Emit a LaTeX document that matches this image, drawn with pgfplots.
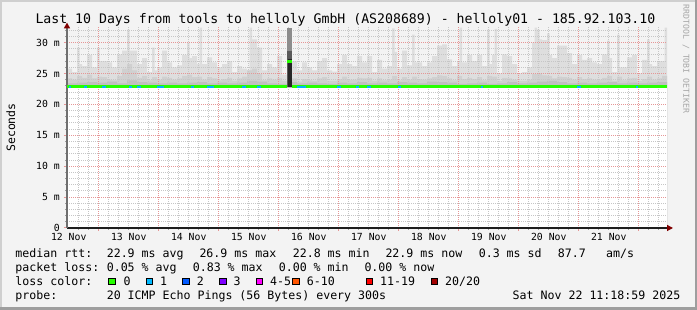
\documentclass[border=0pt]{standalone}
\usepackage{pgfplots}
\pgfplotsset{compat=1.18}
\usepackage{pgfplotstable}
\usepackage{fontspec}
\setmainfont{DejaVu Sans Mono}
\usetikzlibrary{arrows.meta}
\definecolor{bgc}{RGB}{243,243,243}
\definecolor{shadeA}{RGB}{207,207,207}
\definecolor{shadeB}{RGB}{158,158,158}
\definecolor{smokeA}{RGB}{222,222,222}
\definecolor{smokeB}{RGB}{208,208,208}
\definecolor{smokeC}{RGB}{192,192,192}
\definecolor{colA}{RGB}{140,140,140}
\definecolor{colB}{RGB}{90,90,90}
\definecolor{colC}{RGB}{38,38,38}
\definecolor{majgrid}{RGB}{230,150,150}
\definecolor{mingrid}{RGB}{198,198,198}
\definecolor{yaxiscol}{RGB}{110,110,110}
\definecolor{xaxiscol}{RGB}{30,30,30}
\definecolor{arrowred}{RGB}{128,0,0}
\definecolor{loss0}{HTML}{26FF00}
\definecolor{loss1}{HTML}{00B8FF}
\definecolor{loss2}{HTML}{0059FF}
\definecolor{loss3}{HTML}{7E00FF}
\definecolor{loss45}{HTML}{FF00FF}
\definecolor{loss610}{HTML}{FF5500}
\definecolor{loss1119}{HTML}{FF0000}
\definecolor{loss20}{HTML}{A10000}

% hours since 12 Nov 00:00
\pgfplotstableread{
h v
11.3 25.8
13.3 25.2
15.3 29.2
16.3 26.5
17.3 26.2
19.3 28.0
21.3 26.0
23.3 29.2
24.3 27.0
25.3 27.0
27.3 26.8
29.3 26.0
31.3 28.1
33.3 28.7
35.3 32.1
36.3 28.7
37.3 28.7
39.3 26.5
41.3 27.5
43.3 25.2
45.3 29.2
46.3 25.5
47.3 26.0
49.3 28.7
51.3 26.8
53.3 26.0
55.3 26.3
57.3 28.0
59.3 30.0
60.3 27.5
61.3 27.8
63.3 26.5
64.3 32.4
65.3 26.5
67.3 27.6
69.3 26.8
71.3 26.0
73.3 26.5
75.3 27.0
77.3 25.2
79.3 26.2
81.3 25.8
83.3 25.5
84.3 32.4
85.3 30.5
87.3 29.2
89.3 25.5
91.3 26.5
93.3 26.0
95.3 27.8
97.3 24.8
99.3 24.8
101.3 27.0
103.3 25.5
105.3 26.8
107.3 26.0
109.3 25.5
111.3 27.0
113.3 27.5
115.3 25.5
117.3 25.3
119.3 26.5
121.3 28.0
123.3 26.5
125.3 26.2
127.3 27.8
129.3 26.8
131.3 27.8
133.3 25.2
135.3 27.2
137.3 25.8
139.3 26.2
141.3 32.3
142.3 28.5
143.3 25.8
145.3 28.7
147.3 26.3
149.3 31.3
150.3 26.8
151.3 26.8
153.3 26.2
155.3 26.8
157.3 27.8
159.3 29.5
161.3 29.7
163.3 27.3
165.3 26.2
167.3 27.0
168.3 32.4
169.3 26.8
171.3 28.0
173.3 27.0
175.3 28.0
177.3 26.2
179.3 32.1
180.3 26.5
181.3 28.0
182.3 32.2
183.3 25.0
185.3 28.1
187.3 27.8
189.3 26.5
191.3 25.0
193.3 25.2
195.3 26.0
197.3 30.0
198.3 32.4
199.3 32.1
200.3 30.5
201.3 30.4
203.3 31.5
204.3 28.0
205.3 27.5
207.3 29.5
209.3 29.5
211.3 28.3
213.3 26.5
215.3 28.0
217.3 27.2
219.3 27.5
221.3 26.8
223.3 26.5
225.3 28.1
227.3 30.3
228.3 27.5
229.3 25.2
231.3 31.3
232.3 26.0
233.3 26.0
235.3 27.6
237.3 28.0
239.3 25.0
241.3 27.2
243.3 30.5
244.3 26.5
245.3 26.2
247.3 27.0
249.3 27.0
250.3 32.4
251.3 32.4
}\smokemax

\pgfplotstableread{
h v
11.3 24.2
13.3 24.0
15.3 24.6
17.3 24.3
19.3 24.8
21.3 24.2
23.3 24.5
25.3 24.4
27.3 24.0
29.3 23.9
31.3 24.6
33.3 25.8
35.3 26.5
37.3 25.5
39.3 24.3
41.3 24.6
43.3 23.9
45.3 24.4
47.3 24.0
49.3 24.5
51.3 24.3
53.3 24.0
55.3 24.2
57.3 24.6
59.3 24.8
61.3 24.4
63.3 24.5
65.3 24.0
67.3 24.4
69.3 24.2
71.3 23.9
73.3 24.1
75.3 24.3
77.3 23.8
79.3 24.2
81.3 24.5
83.3 25.5
85.3 25.8
87.3 24.9
89.3 23.9
91.3 24.2
93.3 24.0
95.3 24.3
97.3 23.8
99.3 24.0
101.3 24.2
103.3 23.7
105.3 24.1
107.3 23.9
109.3 23.8
111.3 24.2
113.3 24.4
115.3 23.8
117.3 23.8
119.3 24.1
121.3 24.5
123.3 24.0
125.3 24.0
127.3 24.3
129.3 24.2
131.3 24.3
133.3 23.8
135.3 24.2
137.3 23.9
139.3 24.0
141.3 24.6
143.3 23.9
145.3 24.4
147.3 24.0
149.3 24.5
151.3 24.1
153.3 24.0
155.3 24.2
157.3 24.4
159.3 24.7
161.3 24.6
163.3 24.2
165.3 23.9
167.3 24.6
169.3 24.1
171.3 24.3
173.3 24.1
175.3 24.4
177.3 23.9
179.3 24.6
181.3 24.5
183.3 23.8
185.3 24.3
187.3 24.2
189.3 24.0
191.3 23.8
193.3 23.8
195.3 24.0
197.3 24.9
199.3 25.0
201.3 24.7
203.3 24.6
205.3 24.2
207.3 24.5
209.3 24.4
211.3 24.3
213.3 24.0
215.3 24.4
217.3 24.1
219.3 24.2
221.3 24.0
223.3 24.0
225.3 24.3
227.3 24.6
229.3 23.8
231.3 24.5
233.3 23.9
235.3 24.2
237.3 24.3
239.3 23.8
241.3 24.1
243.3 24.5
245.3 24.0
247.3 24.2
249.3 24.6
251.3 24.6
}\smokemid

\pgfplotstableread{
h v
11.3 23.4
15.3 23.5
19.3 23.6
23.3 23.5
27.3 23.7
31.3 23.4
35.3 23.9
39.3 23.6
43.3 23.5
47.3 23.4
51.3 23.5
55.3 23.4
59.3 23.5
63.3 23.6
67.3 23.4
71.3 23.5
75.3 23.4
79.3 23.5
83.3 23.8
87.3 23.7
91.3 23.4
95.3 23.3
99.3 23.6
103.3 23.4
107.3 23.5
111.3 23.4
115.3 23.3
119.3 23.5
123.3 23.4
127.3 23.6
131.3 23.4
135.3 23.5
139.3 23.4
143.3 23.6
147.3 23.5
151.3 23.4
155.3 23.7
159.3 23.6
163.3 23.5
167.3 23.3
171.3 23.4
175.3 23.5
179.3 23.3
183.3 23.4
187.3 23.6
191.3 23.4
195.3 23.5
199.3 23.7
203.3 23.8
207.3 23.6
211.3 23.4
215.3 23.5
219.3 23.4
223.3 23.5
227.3 23.6
231.3 23.4
235.3 23.5
239.3 23.4
243.3 23.5
247.3 23.6
251.3 23.6
}\smokelow

\begin{document}
\begin{tikzpicture}
\fill[bgc] (0,0) rectangle (697pt,310pt);
\fill[shadeA] (0,0) rectangle (2pt,310pt);
\fill[shadeA] (0,308pt) rectangle (697pt,310pt);
\fill[shadeB] (694.5pt,0) rectangle (697pt,310pt);
\fill[shadeB] (0,0) rectangle (697pt,2.5pt);

\begin{axis}[
  at={(67pt,82pt)}, anchor=south west,
  scale only axis, width=600pt, height=201.5pt,
  xmin=11.3, xmax=251.3, ymin=0, ymax=32.6,
  set layers, axis on top,
  axis background/.style={fill=white},
  axis lines*=left,
  x axis line style={draw=xaxiscol, line width=1.3pt, -{Triangle[length=6pt,width=6pt,color=arrowred]}, shorten >=-6pt},
  y axis line style={draw=yaxiscol, line width=1.5pt, -{Triangle[length=6pt,width=6pt,color=arrowred]}, shorten >=-4pt},
  xtick={24,48,...,240},
  xticklabels={},
  extra x ticks={12,36,...,228},
  extra x tick labels={12 Nov,13 Nov,14 Nov,15 Nov,16 Nov,17 Nov,18 Nov,19 Nov,20 Nov,21 Nov},
  extra x tick style={grid=none, major tick length=0pt},
  minor xtick={16,20,...,248},
  xmajorgrids=true, xminorgrids=true,
  ytick={0,5,...,30},
  yticklabels={0,5 m,10 m,15 m,20 m,25 m,30 m},
  minor ytick={1,...,32},
  ymajorgrids=true, yminorgrids=true,
  major grid style={draw=majgrid, line width=1pt, dash pattern=on 1pt off 1pt},
  minor grid style={draw=mingrid, line width=1pt, dash pattern=on 1pt off 1pt},
  major tick style={draw=majgrid, line width=1pt},
  minor tick style={draw=mingrid!80!black, line width=1pt},
  major tick length=3pt, minor tick length=2pt,
  tick align=outside,
  xticklabel style={font=\fontsize{9.8}{11}\selectfont, anchor=base, inner sep=0pt, yshift=-12.7pt},
  yticklabel style={font=\fontsize{9.8}{11}\selectfont, anchor=east, inner sep=0pt, xshift=-4pt},
]
\addplot[const plot, fill=smokeA, draw=none] table[x=h,y=v] {\smokemax} \closedcycle;
\addplot[const plot, fill=smokeB, draw=none] table[x=h,y=v] {\smokemid} \closedcycle;
\addplot[const plot, fill=smokeC, draw=none] table[x=h,y=v] {\smokelow} \closedcycle;
% below the smoke
\addplot[fill=white, draw=none] coordinates {(11.3,22.72) (251.3,22.72)} \closedcycle;
% loss burst column (20 pings spread, drawn above the grid)
\addplot[on layer=axis foreground, fill=colA, draw=none] coordinates {(99.3,22.75) (99.3,32.4) (101.3,32.4) (101.3,22.75)} -- cycle;
\addplot[on layer=axis foreground, fill=colB, draw=none] coordinates {(99.3,22.75) (99.3,28.7) (101.3,28.7) (101.3,22.75)} -- cycle;
\addplot[on layer=axis foreground, fill=colC, draw=none] coordinates {(99.6,22.75) (99.6,27.3) (101.3,27.3) (101.3,22.75)} -- cycle;
% median rtt, colour by loss
\addplot[on layer=axis foreground, draw=loss0, line width=2.5pt] coordinates {(11.3,22.9) (99.3,22.9)};
\addplot[on layer=axis foreground, draw=loss0, line width=2.5pt] coordinates {(101.3,22.9) (251.3,22.9)};
\addplot[on layer=axis foreground, draw=loss0, line width=2.5pt] coordinates {(99.3,26.9) (101.3,26.9)};
\addplot[on layer=axis foreground, draw=loss1, line width=2.2pt, unbounded coords=jump] coordinates {
(12.1,22.85) (12.9,22.85) (13,nan)
(18.1,22.85) (19.3,22.85) (19.4,nan)
(25.3,22.85) (26.9,22.85) (27,nan)
(36.1,22.85) (37.3,22.85) (37.4,nan)
(39.3,22.85) (40.9,22.85) (41,nan)
(47.3,22.85) (50.1,22.85) (50.2,nan)
(60.9,22.85) (62.1,22.85) (62.2,nan)
(67.3,22.85) (70.1,22.85) (70.2,nan)
(81.3,22.85) (82.9,22.85) (83,nan)
(87.3,22.85) (88.9,22.85) (89,nan)
(103.3,22.85) (106.9,22.85) (107,nan)
(119.3,22.85) (120.9,22.85) (121,nan)
(126.9,22.85) (128.1,22.85) (128.2,nan)
(131.3,22.85) (132.9,22.85) (133,nan)
(143.7,22.85) (144.9,22.85) (145,nan)
(176.9,22.85) (177.7,22.85) (177.8,nan)
(215.3,22.85) (216.9,22.85) (217,nan)
(238.9,22.85) (239.7,22.85)
};
\end{axis}

\begin{scope}[x=1pt,y=-1pt,shift={(0pt,310pt)}]
\node[anchor=base west, inner sep=0pt, font=\fontsize{13.2}{15}\selectfont] at (35.3,24) {Last 10 Days from tools to helloly GmbH (AS208689) - helloly01 - 185.92.103.10};
\node[rotate=90, inner sep=0pt, font=\fontsize{11.5}{13}\selectfont] at (10.8,127.5) {Seconds};
\node[rotate=-90, inner sep=0pt, text=black!35, font=\fontsize{8.2}{10}\selectfont] at (686,59) {RRDTOOL / TOBI OETIKER};
\begin{scope}[every node/.style={anchor=base west, inner sep=0pt, font=\fontsize{11.6}{14}\selectfont}]
\node at (15.3,257.3) {median rtt:};
\node at (106.6,257.3) {22.9 ms avg};
\node at (199.3,257.3) {26.9 ms max};
\node at (292.6,257.3) {22.8 ms min};
\node at (385.3,257.3) {22.9 ms now};
\node at (478.6,257.3) {0.3 ms sd};
\node at (557.6,257.3) {87.7};
\node at (606,257.3) {am/s};
\node at (15.3,271.6) {packet loss:};
\node at (106.6,271.6) {0.05 \% avg};
\node at (192.6,271.6) {0.83 \% max};
\node at (278.6,271.6) {0.00 \% min};
\node at (364.3,271.6) {0.00 \% now};
\node at (15.3,285.8) {loss color:};
\node at (123.3,285.8) {0};
\node at (160,285.8) {1};
\node at (196.6,285.8) {2};
\node at (233.3,285.8) {3};
\node at (270,285.8) {4-5};
\node at (306.6,285.8) {6-10};
\node at (380,285.8) {11-19};
\node at (445,285.8) {20/20};
\node at (15.3,300) {probe:};
\node at (106.6,300) {20 ICMP Echo Pings (56 Bytes) every 300s};
\node[anchor=base east] at (680.5,300) {Sat Nov 22 11:18:59 2025};
\end{scope}
\begin{scope}[line width=0.8pt, draw=black]
\filldraw[fill=loss0] (108.7,278.1) rectangle (115.3,284.8);
\filldraw[fill=loss1] (146.1,278.1) rectangle (152.7,284.8);
\filldraw[fill=loss2] (182.7,278.1) rectangle (189.3,284.8);
\filldraw[fill=loss3] (219.4,278.1) rectangle (226,284.8);
\filldraw[fill=loss45] (256.1,278.1) rectangle (262.7,284.8);
\filldraw[fill=loss610] (292.7,278.1) rectangle (299.3,284.8);
\filldraw[fill=loss1119] (366.1,278.1) rectangle (372.7,284.8);
\filldraw[fill=loss20] (431.1,278.1) rectangle (437.7,284.8);
\end{scope}
\end{scope}
\end{tikzpicture}
\end{document}
